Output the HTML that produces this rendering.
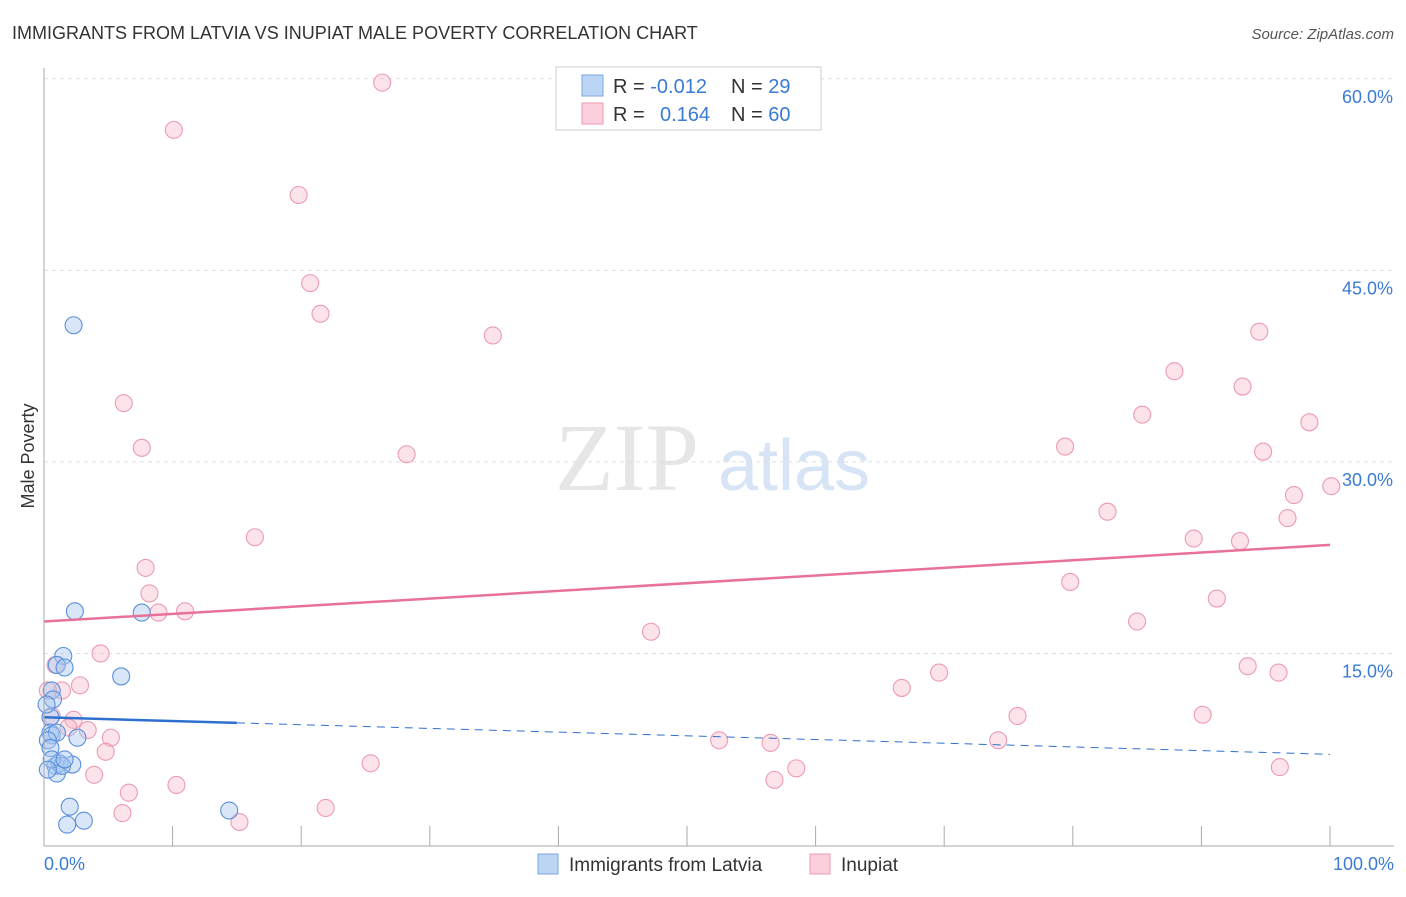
<!DOCTYPE html>
<html><head><meta charset="utf-8"><style>
body{margin:0;background:#fff;font-family:"Liberation Sans",sans-serif}
</style></head><body>
<svg id="c" width="1406" height="892" xmlns="http://www.w3.org/2000/svg">
<text x="12" y="39" font-size="18" fill="#333">IMMIGRANTS FROM LATVIA VS INUPIAT MALE POVERTY CORRELATION CHART</text>
<text x="1394" y="39" font-size="15" fill="#555" text-anchor="end" font-style="italic">Source: ZipAtlas.com</text>
<text x="555" y="490" font-size="96" fill="#e6e6e6" font-family="Liberation Serif,serif">ZIP</text>
<text x="718" y="490" font-size="72" fill="#d6e4f5">atlas</text>
<text x="34" y="456" font-size="18" fill="#333" transform="rotate(-90 34 456)" text-anchor="middle">Male Poverty</text>
<g id="grid"></g><g id="pts"></g><g id="lines"></g>
<line x1="44" y1="68" x2="44" y2="846" stroke="#aaa"/>
<line x1="44" y1="846" x2="1394" y2="846" stroke="#aaa"/>
<text x="44" y="870" font-size="18" fill="#3a7bd5">0.0%</text>
<text x="1394" y="870" font-size="18" fill="#3a7bd5" text-anchor="end">100.0%</text>
<g>
<rect x="556" y="67" width="265" height="63" fill="#fff" stroke="#ccc"/>
<rect x="582" y="75" width="21" height="21" fill="#bcd5f5" stroke="#7aa6e0"/>
<rect x="582" y="103" width="21" height="21" fill="#fbcfdc" stroke="#ec9ab3"/>
<text x="613" y="93" font-size="20" fill="#333">R = <tspan fill="#3a7bd5">-0.012</tspan><tspan x="731">N = </tspan><tspan fill="#3a7bd5">29</tspan></text>
<text x="613" y="121" font-size="20" fill="#333">R = <tspan x="660" fill="#3a7bd5">0.164</tspan><tspan x="731">N = </tspan><tspan fill="#3a7bd5">60</tspan></text>
</g>
<g>
<rect x="538" y="854" width="20" height="20" fill="#bcd5f5" stroke="#7aa6e0"/>
<text x="569" y="871" font-size="19" fill="#333">Immigrants from Latvia</text>
<rect x="810" y="854" width="20" height="20" fill="#fbcfdc" stroke="#ec9ab3"/>
<text x="841" y="871" font-size="19" fill="#333">Inupiat</text>
</g>
</svg>
<script>
const yTicks=[15,30,45,60];
const xTicks=[0,10,20,30,40,50,60,70,80,90,100];
const blueX=[2.3,2.4,7.6,6,1.5,1,1.6,0.6,0.7,0.5,0.5,0.6,1,0.3,2.6,0.5,0.9,1.2,2.2,1,1.4,2,3.1,1.8,14.4,0.2,0.6,1.6,0.3];
const blueY=[40.7,18.3,18.2,13.2,14.8,14.1,13.9,12.1,11.4,10.0,8.8,8.6,8.8,8.2,8.4,7.6,6.2,6.4,6.3,5.6,6.2,3.0,1.9,1.6,2.7,11.0,6.7,6.7,5.9];
const pinkX=[26.3,10.1,19.8,20.7,21.5,34.9,6.2,7.6,28.2,16.4,7.9,8.2,8.9,10.97,4.4,0.9,2.8,1.4,0.3,0.6,2.3,1.9,3.4,5.2,4.8,3.9,6.6,10.3,6.1,15.2,21.9,25.4,47.2,52.5,56.5,56.8,58.5,66.7,69.6,75.7,74.2,79.4,82.7,79.8,85,85.4,87.9,89.4,91.2,90.1,93,93.2,94.5,94.8,93.6,96,96.1,97.2,96.7,98.4,100.1];
const pinkY=[59.7,56,50.9,44,41.6,39.9,34.6,31.1,30.6,24.1,21.7,19.7,18.2,18.3,15,14.1,12.5,12.1,12.1,10.1,9.8,9.2,9,8.4,7.3,5.5,4.1,4.7,2.5,1.8,2.9,6.4,16.7,8.2,8,5.1,6,12.3,13.5,10.1,8.2,31.2,26.1,20.6,17.5,33.7,37.1,24,19.3,10.2,23.8,35.9,40.2,30.8,14,13.5,6.1,27.4,25.6,33.1,28.1];
const pinkTrend=[17.5,23.5];
const blueTrend=[10.0,7.1];
const blueSolidEnd=15;
const X=p=>44+p*12.86, Y=v=>845-v*12.77;
const NS='http://www.w3.org/2000/svg';
function mk(t,a,parent){const e=document.createElementNS(NS,t);for(const k in a)e.setAttribute(k,a[k]);parent.appendChild(e);return e;}
const g=document.getElementById('grid'),pg=document.getElementById('pts'),lg=document.getElementById('lines');
yTicks.forEach(v=>{
 const l=mk('line',{x1:44,x2:1394,y1:Y(v),y2:Y(v),stroke:'#ddd','stroke-dasharray':'4,4'},g);
 
 
 const t=mk('text',{x:1393,y:Y(v)+24,'font-size':18,fill:'#3a7bd5','text-anchor':'end'},g);
 t.textContent=v.toFixed(1)+'%';
 
 
});
xTicks.forEach(p=>{
 const l=mk('line',{x1:X(p),x2:X(p),y1:826,y2:846,stroke:'#aaa'},g);
 
 
});
pinkX.forEach((p,i)=>{
 const c=mk('circle',{cx:X(p),cy:Y(pinkY[i]),r:8.5,fill:'#f7b8cb','fill-opacity':0.4,stroke:'#ec9ab3','stroke-width':1.1},pg);
 
 
});
blueX.forEach((p,i)=>{
 const c=mk('circle',{cx:X(p),cy:Y(blueY[i]),r:8.5,fill:'#a9c8f0','fill-opacity':0.45,stroke:'#5a90dc','stroke-width':1.1},pg);
 
 
});
const pl=mk('line',{x1:X(0),y1:Y(pinkTrend[0]),x2:X(100),y2:Y(pinkTrend[1]),stroke:'#e8719a','stroke-width':2.5},lg);


const bv=p=>blueTrend[0]+(blueTrend[1]-blueTrend[0])*p/100;
const bl=mk('line',{x1:X(0),y1:Y(bv(0)),x2:X(blueSolidEnd),y2:Y(bv(blueSolidEnd)),stroke:'#2f6fcf','stroke-width':2.5},lg);


const bd=mk('line',{x1:X(blueSolidEnd),y1:Y(bv(blueSolidEnd)),x2:X(100),y2:Y(bv(100)),stroke:'#2f6fcf','stroke-width':1,'stroke-dasharray':'8,6'},lg);


</script>
</body></html>
